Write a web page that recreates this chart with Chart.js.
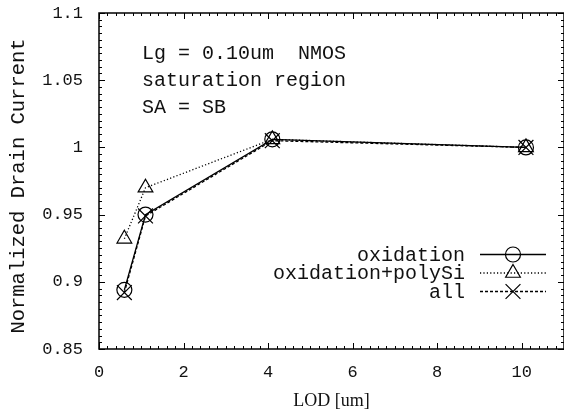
<!DOCTYPE html>
<html><head><meta charset="utf-8">
<script src="https://cdn.jsdelivr.net/npm/chart.js@4/dist/chart.umd.min.js"></script>
<style>html,body{margin:0;padding:0;background:#fff}#wrap{width:564px;height:415px}</style>
</head><body><div id="wrap"><canvas id="c" width="564" height="415"></canvas></div>
<script>
// ---- data ----
const lod = [0.6, 1.1, 4.1, 10.1];
const oxidation = [0.894, 0.950, 1.006, 1.000];
const oxidationPolySi = [0.932, 0.970, 1.006, 1.000];
const allEffects = [0.892, 0.949, 1.005, 1.000];
const seriesNames = ['oxidation', 'oxidation+polySi', 'all'];
const xTicks = [0, 2, 4, 6, 8, 10];
const xTickLabels = ['0', '2', '4', '6', '8', '10'];
const yTicks = [0.85, 0.9, 0.95, 1, 1.05, 1.1];
const yTickLabels = ['0.85', '0.9', '0.95', '1', '1.05', '1.1'];
const notes = ['Lg = 0.10um  NMOS', 'saturation region', 'SA = SB'];
const yTitle = 'Normalized Drain Current';
const xTitle = 'LOD [um]';

const MONO = "'Liberation Mono', 'DejaVu Sans Mono', monospace";
const SERIF = "'Liberation Serif', 'DejaVu Serif', serif";

function pts(ys) { return lod.map((x, i) => ({ x: x, y: ys[i] })); }

function drawMarker(ctx, style, r, x, y) {
  ctx.beginPath();
  if (style === 'circle') {
    ctx.arc(x, y, r, 0, Math.PI * 2);
  } else if (style === 'triangle') {
    for (let k = 0; k < 3; k++) {
      const a = k * 2 * Math.PI / 3;
      const px = x + Math.sin(a) * r, py = y - Math.cos(a) * r;
      if (k === 0) ctx.moveTo(px, py); else ctx.lineTo(px, py);
    }
    ctx.closePath();
  } else if (style === 'crossRot') {
    const o = Math.cos(Math.PI / 4) * r;
    ctx.moveTo(x - o, y - o); ctx.lineTo(x + o, y + o);
    ctx.moveTo(x - o, y + o); ctx.lineTo(x + o, y - o);
  }
  ctx.stroke();
}

const framePlugin = {
  id: 'frame',
  beforeDatasetsDraw(chart) {
    const { ctx, chartArea: a, scales } = chart;
    const xs = scales.x, ys = scales.y;
    ctx.save();
    ctx.strokeStyle = '#000';
    ctx.lineWidth = 1;
    ctx.beginPath();
    const xStep = xTicks[1] - xTicks[0];
    for (let k = 0; ; k++) {
      const v = xs.min + k * xStep / 10;
      if (v > xs.max + 1e-9) break;
      const len = (k % 10 === 0) ? 6 : 3;
      const px = Math.round(xs.getPixelForValue(v)) + 0.5;
      ctx.moveTo(px, a.bottom); ctx.lineTo(px, a.bottom - len);
      ctx.moveTo(px, a.top); ctx.lineTo(px, a.top + len);
    }
    const yStep = yTicks[1] - yTicks[0];
    for (let k = 0; ; k++) {
      const v = ys.min + k * yStep / 10;
      if (v > ys.max + 1e-9) break;
      const len = (k % 10 === 0) ? 6 : 3;
      const py = Math.round(ys.getPixelForValue(v)) + 0.5;
      ctx.moveTo(a.left, py); ctx.lineTo(a.left + len, py);
      ctx.moveTo(a.right, py); ctx.lineTo(a.right - len, py);
    }
    ctx.stroke();
    ctx.lineWidth = 1.5;
    ctx.strokeRect(a.left, a.top, a.right - a.left, a.bottom - a.top);
    ctx.fillStyle = '#111';
    ctx.font = '20px ' + MONO;
    ctx.textAlign = 'left';
    ctx.textBaseline = 'alphabetic';
    notes.forEach((t, i) => ctx.fillText(t, 142, 59 + i * 27));
    // y axis title
    ctx.save();
    ctx.translate(19, 186);
    ctx.rotate(-Math.PI / 2);
    ctx.font = '20.5px ' + MONO;
    ctx.textAlign = 'center';
    ctx.textBaseline = 'middle';
    ctx.fillText(yTitle, 0, 0);
    ctx.restore();
    ctx.restore();
  }
};

const legendPlugin = {
  id: 'customLegend',
  afterDatasetsDraw(chart) {
    const ctx = chart.ctx;
    ctx.save();
    chart.data.datasets.forEach((ds, i) => {
      const y = 254.5 + i * 18.5;
      ctx.fillStyle = '#111';
      ctx.font = '20px ' + MONO;
      ctx.textAlign = 'right';
      ctx.textBaseline = 'middle';
      ctx.fillText(ds.label, 465, y + 1);
      ctx.strokeStyle = ds.borderColor;
      ctx.lineWidth = ds.borderWidth;
      ctx.setLineDash(ds.borderDash || []);
      ctx.beginPath();
      ctx.moveTo(480, y); ctx.lineTo(546, y);
      ctx.stroke();
      ctx.setLineDash([]);
      ctx.lineWidth = ds.pointBorderWidth;
      drawMarker(ctx, ds.pointStyle, ds.pointRadius, 513, y);
    });
    ctx.restore();
  }
};

const common = {
  borderColor: '#000',
  borderWidth: 1.3,
  pointBorderColor: '#000',
  pointBackgroundColor: 'rgba(0,0,0,0)',
  pointBorderWidth: 1.2,
  pointHoverRadius: 0,
  tension: 0,
  fill: false
};

new Chart(document.getElementById('c'), {
  type: 'line',
  data: {
    datasets: [
      Object.assign({}, common, { label: seriesNames[0], data: pts(oxidation), pointStyle: 'circle', pointRadius: 7.5, borderDash: [] }),
      Object.assign({}, common, { label: seriesNames[1], data: pts(oxidationPolySi), pointStyle: 'triangle', pointRadius: 8.5, borderDash: [1.2, 2.2] }),
      Object.assign({}, common, { label: seriesNames[2], data: pts(allEffects), pointStyle: 'crossRot', pointRadius: 10.5, borderDash: [3, 2] })
    ]
  },
  options: {
    responsive: false,
    animation: false,
    devicePixelRatio: 1,
    layout: { autoPadding: false, padding: { top: 13, right: -3, bottom: 0, left: 0 } },
    plugins: { legend: { display: false }, tooltip: { enabled: false } },
    events: [],
    scales: {
      x: {
        type: 'linear', min: 0, max: 11,
        afterBuildTicks: s => { s.ticks = xTicks.map(v => ({ value: v })); },
        afterFit: s => { s.height = 66; s.paddingLeft = 0; s.paddingRight = 0; },
        grid: { display: false, drawTicks: false },
        border: { display: false },
        ticks: {
          font: { family: MONO, size: 17 }, color: '#111', padding: 13,
          maxRotation: 0, autoSkip: false,
          callback: (v, i) => xTickLabels[i]
        },
        title: { display: true, text: xTitle, color: '#111', font: { family: SERIF, size: 18 }, padding: { top: 0, bottom: 3 } }
      },
      y: {
        type: 'linear', min: 0.85, max: 1.1,
        afterBuildTicks: s => { s.ticks = yTicks.map(v => ({ value: v })); },
        afterFit: s => { s.width = 99; s.paddingTop = 0; s.paddingBottom = 0; },
        grid: { display: false, drawTicks: false },
        border: { display: false },
        ticks: {
          font: { family: MONO, size: 17 }, color: '#111', padding: 16, autoSkip: false,
          callback: (v, i) => yTickLabels[i]
        },
        title: { display: false }
      }
    }
  },
  plugins: [framePlugin, legendPlugin]
});
</script>
</body></html>
